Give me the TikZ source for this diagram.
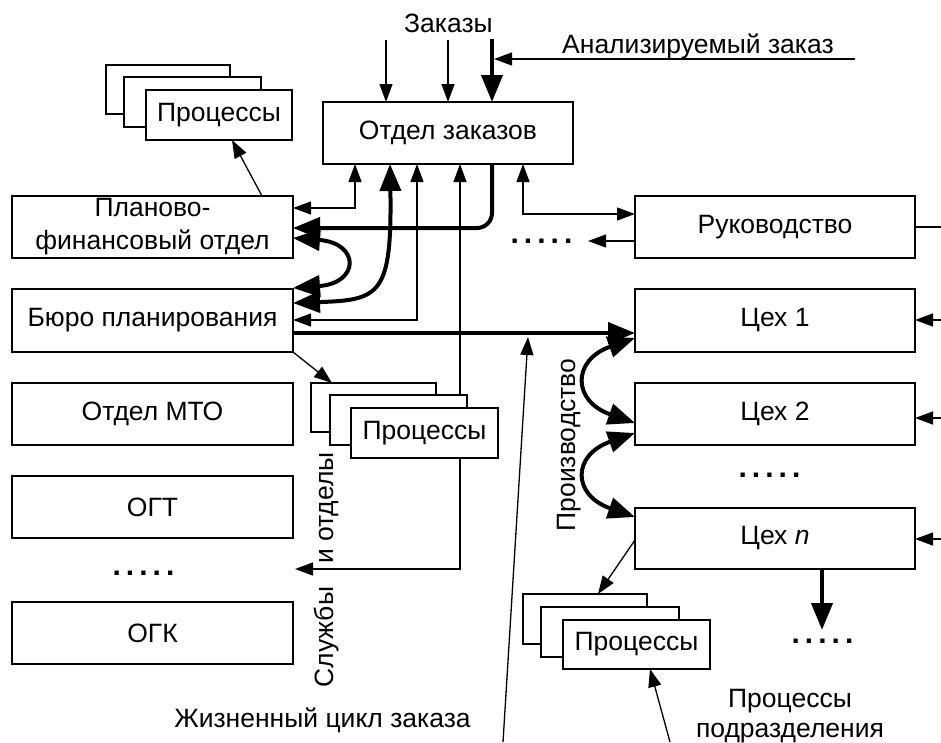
\documentclass[tikz,border=0pt]{standalone}
\usepackage{fontspec}
\setmainfont{Liberation Sans}
\usetikzlibrary{arrows.meta}
\newcommand\fivedots{.\hspace{5pt}.\hspace{5pt}.\hspace{5pt}.\hspace{5pt}.}
\begin{document}
\begin{tikzpicture}[x=1pt,y=-1pt,
  every node/.style={font=\fontsize{26.5}{31}\selectfont},
  blk/.style={draw,line width=2pt,inner sep=0pt,outer sep=0pt,anchor=north west,align=center},
  proc/.style={draw,line width=1.3pt,fill=white,inner sep=0pt,outer sep=0pt,anchor=north west},
  tipS/.tip={Triangle[length=18pt,width=13pt]},
  tipL/.tip={Triangle[length=27pt,width=21pt]},
  tline/.style={line width=1.3pt},
  lnto/.style={tline,-{tipS}},
  lnboth/.style={tline,{tipS}-{tipS}},
  fatline/.style={line width=4pt},
  fatto/.style={fatline,-{tipL}},
  fatboth/.style={fatline,{tipL}-{tipL}},
  lbl/.style={inner sep=0pt},
  dotrow/.style={inner sep=0pt,font=\fontsize{30}{30}\selectfont\bfseries},
  vlabel/.style={rotate=90,anchor=base,inner sep=0pt},
]
\useasboundingbox (0,0) rectangle (941,742);

% main units
\node[blk,minimum width=250pt,minimum height=62pt] (oz) at (323,102) {Отдел заказов};
\node[blk,minimum width=281pt,minimum height=62pt,font=\fontsize{26.5}{33}\selectfont] (pfo) at (12,196) {Планово-\\финансовый отдел};
\node[blk,minimum width=281pt,minimum height=63pt] (bp) at (12,289) {Бюро планирования};
\node[blk,minimum width=281pt,minimum height=62pt] (mto) at (12,383) {Отдел МТО};
\node[blk,minimum width=281pt,minimum height=62pt] (ogt) at (12,476) {ОГТ};
\node[blk,minimum width=281pt,minimum height=62pt] (ogk) at (12,602) {ОГК};
\node[blk,minimum width=280pt,minimum height=62pt] (ruk) at (635,196) {Руководство};
\node[blk,minimum width=280pt,minimum height=63pt] (c1) at (635,289) {Цех 1};
\node[blk,minimum width=280pt,minimum height=62pt] (c2) at (635,383) {Цех 2};
\node[blk,minimum width=280pt,minimum height=61pt] (cn) at (635,508) {Цех \textit{n}};

% free ends
\coordinate (z1) at (386,40);
\coordinate (z2) at (448,40);
\coordinate (z3) at (492,39);
\coordinate (az) at (855,59);
\coordinate (azt) at (494,59);
\coordinate (sl) at (295,569);
\coordinate (rd) at (588,241);
\coordinate (lc) at (503,742);
\coordinate (lct) at (528,337);
\coordinate (r1) at (941,320);
\coordinate (r2) at (941,418);
\coordinate (r3) at (941,539);
\coordinate (rr) at (941,227);
\coordinate (cd) at (822,630);
\coordinate (pp) at (670,742);

% incoming orders
\draw[lnto] (z1) -- (z1 |- oz.north);
\draw[lnto] (z2) -- (z2 |- oz.north);
\draw[fatto] (z3) -- (z3 |- oz.north);
\draw[lnto] (az) -- (azt);

% links of the order department
\draw[lnboth] (355,0 |- oz.south) |- (pfo.east |- 0,208);
\draw[fatto,rounded corners=15pt] (492,0 |- oz.south) |- (pfo.east |- 0,228);
\draw[fatboth] (390,0 |- oz.south) .. controls (392,295) and (380,300) .. (bp.east |- 0,303);
\draw[fatboth] (pfo.east |- 0,238) .. controls (360,243) and (360,283) .. (bp.east |- 0,288);
\draw[lnboth] (417,0 |- oz.south) |- (bp.east |- 0,320);
\draw[lnboth] (460,0 |- oz.south) |- (sl);
\draw[lnboth] (523,0 |- oz.south) |- (ruk.west |- 0,214);
\draw[lnto] (ruk.west |- rd) -- (rd);
\draw[tline] (ruk.east |- rr) -- (rr);

% production
\draw[fatto] (bp.east |- 0,333) -- (c1.west |- 0,333);
\draw[lnto] (lc) -- (lct);
\draw[fatboth] (c1.west |- 0,338) .. controls (572,360) and (572,401) .. (c2.west |- 0,423);
\draw[fatboth] (c2.west |- 0,433) .. controls (572,455) and (572,495) .. (cn.west |- 0,517);
\draw[lnto] (r1) -- (c1.east |- r1);
\draw[lnto] (r2) -- (c2.east |- r2);
\draw[lnto] (r3) -- (cn.east |- r3);
\draw[fatto] (822,0 |- cn.south) -- (cd);

% process stacks
\node[proc,minimum width=124pt,minimum height=49pt] (p1a) at (106,65) {};
\node[proc,minimum width=137pt,minimum height=50pt] (p1b) at (124,77) {};
\node[proc,minimum width=146pt,minimum height=50pt] (p1c) at (146,90) {Процессы};

\node[proc,minimum width=125pt,minimum height=49pt] (p2a) at (311,383) {};
\node[proc,minimum width=137pt,minimum height=50pt] (p2b) at (330,395) {};
\node[proc,minimum width=147pt,minimum height=50pt] (p2c) at (351,408) {Процессы};

\node[proc,minimum width=124pt,minimum height=50pt] (p3a) at (523,594) {};
\node[proc,minimum width=138pt,minimum height=50pt] (p3b) at (541,607) {};
\node[proc,minimum width=147pt,minimum height=49pt] (p3c) at (563,620) {Процессы};

\draw[lnto] (262,0 |- pfo.north) -- (232,0 |- p1c.south);
\draw[lnto] (bp.south east) -- (332,0 |- p2a.north);
\draw[lnto] (cn.west |- 0,540) -- (598,0 |- p3a.north);
\draw[lnto] (pp) -- (650,0 |- p3c.south);

% labels
\node[lbl,anchor=base] (lz) at (448.5,32) {Заказы};
\node[lbl,anchor=base west] (la) at (562,53) {Анализируемый заказ};
\node[lbl,anchor=base] (lj) at (322.5,727) {Жизненный цикл заказа};
\node[lbl,align=center,font=\fontsize{26.5}{30}\selectfont] (lpp) at (790,716) {Процессы\\подразделения};
\node[vlabel] (lpr) at (575,445) {Производство};
\node[vlabel] (lso) at (333,508) {и отделы};
\node[vlabel] (lsl) at (333,637) {Службы};

% ellipsis marks
\node[dotrow] (d1) at (541.5,241) {\fivedots};
\node[dotrow] (d2) at (769.5,475) {\fivedots};
\node[dotrow] (d3) at (143.5,573) {\fivedots};
\node[dotrow] (d4) at (822.5,641) {\fivedots};
\end{tikzpicture}
\end{document}
